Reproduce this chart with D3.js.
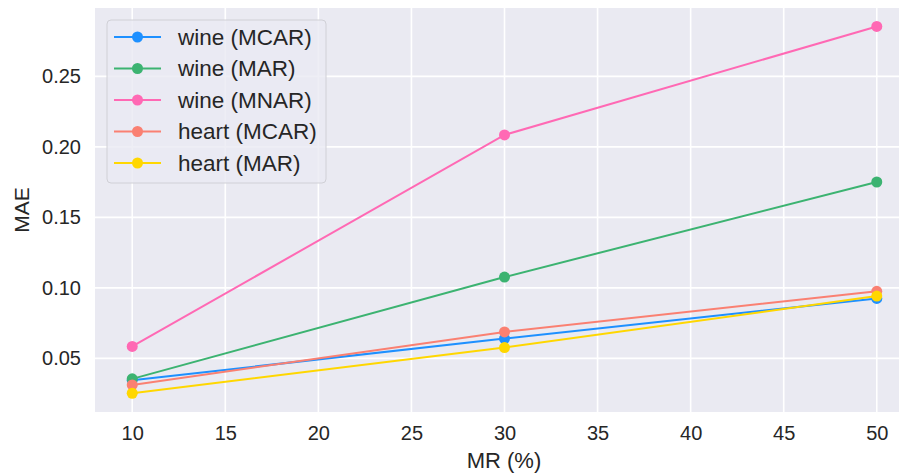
<!DOCTYPE html>
<html>
<head>
<meta charset="utf-8">
<script src="https://cdn.jsdelivr.net/npm/d3@7"></script>
<style>
	body { margin: 0; background: #fff; }
	svg text { font-family: "Liberation Sans", Arial, sans-serif; fill: #262626; }
</style>
</head>
<body>
<svg id="chart" width="899" height="475"></svg>
<script>
// missing rate (%)
var missingRates = [10, 30, 50];

var seriesNames = ["wine (MCAR)", "wine (MAR)", "wine (MNAR)", "heart (MCAR)", "heart (MAR)"];
var seriesColors = ["#1e90ff", "#3cb371", "#ff69b4", "#fa8072", "#ffd700"];

var wineMCAR  = [0.0345, 0.0641, 0.0925];
var wineMAR   = [0.0355, 0.1077, 0.1751];
var wineMNAR  = [0.0585, 0.2085, 0.2854];
var heartMCAR = [0.0312, 0.0688, 0.0976];
var heartMAR  = [0.0253, 0.0577, 0.0942];

var xTicks = [10, 15, 20, 25, 30, 35, 40, 45, 50];
var yTicks = [0.05, 0.10, 0.15, 0.20, 0.25];

var seriesValues = [wineMCAR, wineMAR, wineMNAR, heartMCAR, heartMAR];

var svg = d3.select("svg#chart");
var plot = { left: 95, top: 8, right: 914, bottom: 412 };

var x = d3.scaleLinear().domain([8, 52]).range([plot.left, plot.right]);
var y = d3.scaleLinear().domain([0.012, 0.2985]).range([plot.bottom, plot.top]);

svg.append("clipPath").attr("id", "clip")
	.append("rect")
	.attr("x", plot.left).attr("y", plot.top)
	.attr("width", plot.right - plot.left).attr("height", plot.bottom - plot.top);

svg.append("rect")
	.attr("x", plot.left).attr("y", plot.top)
	.attr("width", plot.right - plot.left).attr("height", plot.bottom - plot.top)
	.attr("fill", "#eaeaf2");

// grid lines
var grid = svg.append("g").attr("clip-path", "url(#clip)");
grid.selectAll("line.vx").data(xTicks).enter().append("line")
	.attr("x1", function (d) { return x(d); }).attr("x2", function (d) { return x(d); })
	.attr("y1", plot.top).attr("y2", plot.bottom)
	.attr("stroke", "#fff").attr("stroke-width", 1.6);
grid.selectAll("line.hy").data(yTicks).enter().append("line")
	.attr("y1", function (d) { return y(d); }).attr("y2", function (d) { return y(d); })
	.attr("x1", plot.left).attr("x2", plot.right)
	.attr("stroke", "#fff").attr("stroke-width", 1.6);

// axes, ticks only as labels (seaborn darkgrid)
var xAxis = svg.append("g")
	.attr("transform", "translate(0," + plot.bottom + ")")
	.call(d3.axisBottom(x).tickValues(xTicks).tickSize(0).tickPadding(14).tickFormat(d3.format("d")));
var yAxis = svg.append("g")
	.attr("transform", "translate(" + plot.left + ",0)")
	.call(d3.axisLeft(y).tickValues(yTicks).tickSize(0).tickPadding(14).tickFormat(d3.format(".2f")));
[xAxis, yAxis].forEach(function (a) {
	a.select(".domain").remove();
	a.selectAll("text").style("font-size", "20px").attr("fill", "#262626");
});

svg.append("text")
	.attr("x", 504).attr("y", 468)
	.attr("text-anchor", "middle").style("font-size", "22px")
	.text("MR (%)");
svg.append("text")
	.attr("transform", "translate(29," + ((plot.top + plot.bottom) / 2) + ") rotate(-90)")
	.attr("text-anchor", "middle").style("font-size", "21px")
	.text("MAE");

// lines and markers
var line = d3.line()
	.x(function (d, i) { return x(missingRates[i]); })
	.y(function (d) { return y(d); });

var marks = svg.append("g").attr("clip-path", "url(#clip)");
seriesValues.forEach(function (vals, s) {
	var g = marks.append("g");
	g.append("path")
		.attr("d", line(vals))
		.attr("fill", "none")
		.attr("stroke", seriesColors[s])
		.attr("stroke-width", 2);
	g.selectAll("circle").data(vals).enter().append("circle")
		.attr("cx", function (d, i) { return x(missingRates[i]); })
		.attr("cy", function (d) { return y(d); })
		.attr("r", 5.5)
		.attr("fill", seriesColors[s]);
});

// legend
var legend = svg.append("g").attr("transform", "translate(107,20)");
legend.append("rect")
	.attr("width", 219).attr("height", 163)
	.attr("rx", 4)
	.attr("fill", "#eaeaf2").attr("fill-opacity", 0.8)
	.attr("stroke", "#d0d0d6").attr("stroke-width", 1);
var item = legend.selectAll("g.item").data(seriesNames).enter().append("g")
	.attr("transform", function (d, i) { return "translate(0," + (17 + i * 31.5) + ")"; });
item.append("line")
	.attr("x1", 7).attr("x2", 54)
	.attr("stroke", function (d, i) { return seriesColors[i]; })
	.attr("stroke-width", 2);
item.append("circle")
	.attr("cx", 30.5).attr("r", 5.5)
	.attr("fill", function (d, i) { return seriesColors[i]; });
item.append("text")
	.attr("x", 71).attr("dy", "0.35em")
	.style("font-size", "22.5px")
	.text(function (d) { return d; });
</script>
</body>
</html>
